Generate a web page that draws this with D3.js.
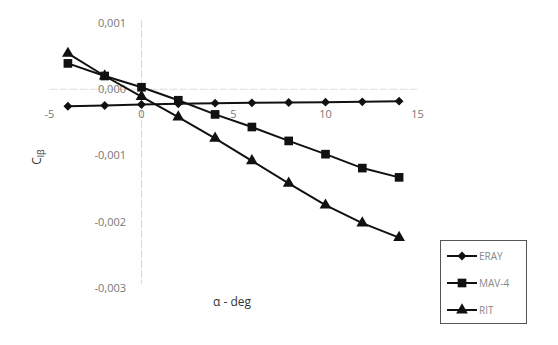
<!DOCTYPE html>
<html><head><meta charset="utf-8">
<script src="https://cdn.jsdelivr.net/npm/d3@7"></script>
<style>body{margin:0;background:#fff}svg{display:block}</style>
</head><body>
<script>
const alpha = [-4,-2,0,2,4,6,8,10,12,14];
const eray = [-0.000256,-0.000245,-0.00023,-0.00022,-0.00021,-0.000205,-0.0002,-0.000195,-0.00019,-0.00018];
const mav4 = [0.00039,0.0002,0.00003,-0.000166,-0.00038,-0.00057,-0.00078,-0.00098,-0.00119,-0.00133];
const rit = [0.00054,0.0002,-0.00011,-0.00042,-0.00074,-0.00108,-0.00142,-0.00175,-0.00202,-0.00224];
const seriesNames = ["ERAY","MAV-4","RIT"];
const xTicks = [-5,0,5,10,15];
const yTicks = [0.001,0,-0.001,-0.002,-0.003];
const yTickLabels = ["0,001","0,000","-0,001","-0,002","-0,003"];

const W=558,H=345;
const svg=d3.select("body").append("svg").attr("width",W).attr("height",H);
const x=d3.scaleLinear().domain([-5,15]).range([49.5,417.5]);
const y=d3.scaleLinear().domain([-0.003,0.001]).range([288,23]);

// axes (light gray)
svg.append("line").attr("x1",x(0)).attr("x2",x(0)).attr("y1",y(0.001)-3).attr("y2",y(-0.003)-4)
  .attr("stroke","#dcdcdc").attr("stroke-width",1.2).attr("stroke-dasharray","8,2");
svg.append("line").attr("x1",x(-5)).attr("x2",x(15)).attr("y1",y(0)).attr("y2",y(0))
  .attr("stroke","#dcdcdc").attr("stroke-width",1.2).attr("stroke-dasharray","8,2");

const tf="'Open Sans', 'Liberation Sans', sans-serif";
svg.append("g").selectAll("text").data(yTicks).join("text")
  .attr("x",126).attr("y",d=>y(d)).attr("dy","0.35em").attr("text-anchor","end")
  .attr("font-family",tf).attr("font-size",11).attr("fill","#777")
  .text((d,i)=>yTickLabels[i]);
svg.append("g").selectAll("text").data(xTicks).join("text")
  .attr("x",d=>x(d)).attr("y",114).attr("dy","0.35em").attr("text-anchor","middle")
  .attr("font-family",tf).attr("font-size",11).attr("fill","#777")
  .text(d=>d);

// titles
svg.append("text").attr("x",232).attr("y",302).attr("dy","0.35em").attr("text-anchor","middle")
  .attr("font-family",tf).attr("font-size",12).attr("fill","#333").text("α - deg");
const yt=svg.append("text").attr("transform","translate(41,157) rotate(-90)").attr("text-anchor","middle")
  .attr("font-family",tf).attr("font-size",12).attr("fill","#333");
yt.append("tspan").text("C");
yt.append("tspan").attr("font-size",9).attr("dy",3).text("lβ");

const line=d3.line().x((d,i)=>x(alpha[i])).y(d=>y(d));
const data=[eray,mav4,rit];
const symTypes=[d3.symbolDiamond2,d3.symbolSquare,d3.symbolTriangle];
const symSizes=[50,75,60];
data.forEach((s,k)=>{
  svg.append("path").datum(s).attr("d",line).attr("fill","none").attr("stroke","#111").attr("stroke-width",2);
});
data.forEach((s,k)=>{
  svg.append("g").selectAll("path").data(s).join("path")
    .attr("transform",(d,i)=>`translate(${x(alpha[i])},${y(d)})`)
    .attr("d",d3.symbol().type(symTypes[k]).size(symSizes[k])).attr("fill","#111");
});

// legend
const lg=svg.append("g");
lg.append("rect").attr("x",440.5).attr("y",240.5).attr("width",86).attr("height",83)
  .attr("fill","#fff").attr("stroke","#555").attr("stroke-width",1);
const ly=[256,283,310];
seriesNames.forEach((n,k)=>{
  lg.append("line").attr("x1",447).attr("x2",477).attr("y1",ly[k]).attr("y2",ly[k]).attr("stroke","#111").attr("stroke-width",2);
  lg.append("path").attr("transform",`translate(462,${ly[k]})`).attr("d",d3.symbol().type(symTypes[k]).size(symSizes[k])).attr("fill","#111");
  lg.append("text").attr("x",479).attr("y",ly[k]).attr("dy","0.35em").attr("font-family",tf).attr("font-size",10).attr("fill","#888").text(n);
});
</script>
</body></html>
